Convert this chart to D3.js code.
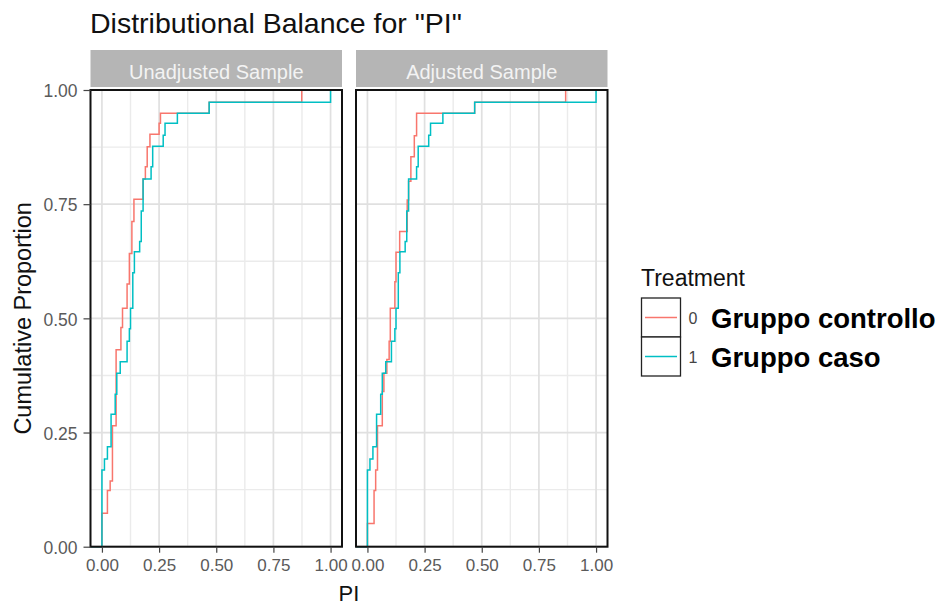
<!DOCTYPE html>
<html>
<head>
<meta charset="utf-8">
<script src="https://cdn.jsdelivr.net/npm/d3@7"></script>
<style>
  body { margin: 0; background: #fff; }
  svg { display: block; font-family: "Liberation Sans", Arial, sans-serif; }
</style>
</head>
<body>
<svg id="chart" width="947" height="606"></svg>
<script>
// ---- data ----
const panelNames = ["Unadjusted Sample", "Adjusted Sample"];
const xTicks = [0, 0.25, 0.5, 0.75, 1];
const yTicks = [0, 0.25, 0.5, 0.75, 1];
const xMinor = [0.125, 0.375, 0.625, 0.875];
const yMinor = [0.125, 0.375, 0.625, 0.875];
const tickLabels = ["0.00", "0.25", "0.50", "0.75", "1.00"];
const treatmentCodes = ["0", "1"];
const groupNames = ["Gruppo controllo", "Gruppo caso"];
const groupColors = ["#F8766D", "#00BFC4"];

// ECDF steps: [PI value, cumulative proportion reached at that value]
const controlUnadjusted = [
  [0, 0.073], [0.024, 0.123], [0.036, 0.144], [0.046, 0.265], [0.062, 0.431],
  [0.083, 0.48], [0.09, 0.522], [0.11, 0.575], [0.12, 0.642], [0.131, 0.712],
  [0.14, 0.761], [0.18, 0.805], [0.19, 0.832], [0.198, 0.876], [0.21, 0.903],
  [0.25, 0.927], [0.256, 0.949], [0.469, 0.973], [0.874, 1.0]
];
const treatedUnadjusted = [
  [0, 0.168], [0.011, 0.192], [0.024, 0.219], [0.04, 0.29], [0.058, 0.334],
  [0.065, 0.38], [0.08, 0.405], [0.11, 0.45], [0.12, 0.477], [0.125, 0.522],
  [0.135, 0.6], [0.142, 0.646], [0.165, 0.668], [0.172, 0.735], [0.18, 0.805],
  [0.215, 0.832], [0.222, 0.877], [0.268, 0.901], [0.276, 0.927], [0.33, 0.949],
  [0.469, 0.973], [1.0, 1.0]
];
const controlAdjusted = [
  [0, 0.051], [0.029, 0.123], [0.036, 0.168], [0.044, 0.265], [0.065, 0.34],
  [0.072, 0.38], [0.085, 0.41], [0.095, 0.45], [0.1, 0.522], [0.12, 0.58],
  [0.125, 0.645], [0.141, 0.69], [0.174, 0.759], [0.18, 0.8], [0.19, 0.854],
  [0.205, 0.9], [0.215, 0.949], [0.469, 0.973], [0.867, 1.0]
];
const treatedAdjusted = [
  [0, 0.168], [0.011, 0.192], [0.024, 0.219], [0.04, 0.29], [0.058, 0.334],
  [0.065, 0.38], [0.08, 0.405], [0.105, 0.45], [0.12, 0.477], [0.125, 0.522],
  [0.135, 0.6], [0.142, 0.646], [0.165, 0.668], [0.172, 0.735], [0.18, 0.805],
  [0.215, 0.832], [0.222, 0.877], [0.268, 0.901], [0.276, 0.927], [0.33, 0.949],
  [0.469, 0.973], [1.0, 1.0]
];
const panelSeries = [
  [controlUnadjusted, treatedUnadjusted],
  [controlAdjusted, treatedAdjusted]
];

// ---- layout ----
const svg = d3.select("#chart");
const panelX = [[90.5, 342], [356, 607.5]];
const panelTop = 90, panelBottom = 546.7;
const stripTop = 50, stripBottom = 87;
const xDomain = [-0.05, 1.05];

const y = d3.scaleLinear().domain([0, 1]).range([panelBottom, panelTop]);

// title
svg.append("text")
  .attr("x", 90).attr("y", 33)
  .attr("font-size", 28.5).attr("fill", "#111")
  .text('Distributional Balance for "PI"');

panelNames.forEach((name, i) => {
  const [x0, x1] = panelX[i];
  const x = d3.scaleLinear().domain(xDomain).range([x0, x1]);
  const g = svg.append("g");

  // strip
  g.append("rect")
    .attr("x", x0).attr("y", stripTop)
    .attr("width", x1 - x0).attr("height", stripBottom - stripTop)
    .attr("fill", "#b5b5b5");
  g.append("text")
    .attr("x", (x0 + x1) / 2).attr("y", 79)
    .attr("text-anchor", "middle")
    .attr("font-size", 20).attr("fill", "#f3f3f3")
    .text(name);

  // grid: minor then major
  g.selectAll(".vminor").data(xMinor).join("line")
    .attr("x1", d => x(d)).attr("x2", d => x(d))
    .attr("y1", panelTop).attr("y2", panelBottom)
    .attr("stroke", "#ebebeb").attr("stroke-width", 1.4);
  g.selectAll(".hminor").data(yMinor).join("line")
    .attr("x1", x0).attr("x2", x1)
    .attr("y1", d => y(d)).attr("y2", d => y(d))
    .attr("stroke", "#ebebeb").attr("stroke-width", 1.4);
  g.selectAll(".vmajor").data(xTicks).join("line")
    .attr("x1", d => x(d)).attr("x2", d => x(d))
    .attr("y1", panelTop).attr("y2", panelBottom)
    .attr("stroke", "#e0e0e0").attr("stroke-width", 1.7);
  g.selectAll(".hmajor").data(yTicks).join("line")
    .attr("x1", x0).attr("x2", x1)
    .attr("y1", d => y(d)).attr("y2", d => y(d))
    .attr("stroke", "#e0e0e0").attr("stroke-width", 1.7);

  // ECDF step lines, padded out to the panel edges
  const line = d3.line()
    .x(d => x(d[0])).y(d => y(d[1]))
    .curve(d3.curveStepAfter);
  panelSeries[i].forEach((steps, k) => {
    const pts = [[xDomain[0], 0], ...steps, [xDomain[1], 1]];
    g.append("path")
      .attr("d", line(pts))
      .attr("fill", "none")
      .attr("stroke", groupColors[k])
      .attr("stroke-width", 1.5);
  });

  // panel border
  g.append("rect")
    .attr("x", x0).attr("y", panelTop)
    .attr("width", x1 - x0).attr("height", panelBottom - panelTop)
    .attr("fill", "none").attr("stroke", "#111").attr("stroke-width", 2);

  // x axis
  const xAxis = d3.axisBottom(x)
    .tickValues(xTicks)
    .tickFormat((d, j) => tickLabels[j])
    .tickSize(6).tickPadding(6);
  const ax = g.append("g")
    .attr("transform", `translate(0,${panelBottom})`)
    .call(xAxis);
  ax.select(".domain").remove();
  ax.selectAll(".tick line").attr("stroke", "#444").attr("stroke-width", 1.2);
  ax.selectAll(".tick text")
    .attr("font-family", "Liberation Sans, Arial, sans-serif")
    .attr("font-size", 17).attr("fill", "#5a5a5a")
    .attr("dy", "0.71em");
});

// y axis on the first panel
const yAxis = d3.axisLeft(y)
  .tickValues(yTicks)
  .tickFormat((d, j) => tickLabels[j])
  .tickSize(7).tickPadding(6);
const ay = svg.append("g")
  .attr("transform", `translate(${panelX[0][0]},0)`)
  .call(yAxis);
ay.select(".domain").remove();
ay.selectAll(".tick line").attr("stroke", "#444").attr("stroke-width", 1.2);
ay.selectAll(".tick text")
  .attr("font-family", "Liberation Sans, Arial, sans-serif")
  .attr("font-size", 17.5).attr("fill", "#5a5a5a")
  .attr("dy", "0.38em");

// axis titles
svg.append("text")
  .attr("x", (panelX[0][0] + panelX[1][1]) / 2).attr("y", 601)
  .attr("text-anchor", "middle")
  .attr("font-size", 22).attr("fill", "#111")
  .text("PI");
svg.append("text")
  .attr("transform", `translate(31,${(panelTop + panelBottom) / 2}) rotate(-90)`)
  .attr("text-anchor", "middle")
  .attr("font-size", 23.5).attr("fill", "#111")
  .text("Cumulative Proportion");

// legend
const legend = svg.append("g");
legend.append("text")
  .attr("x", 641).attr("y", 286)
  .attr("font-size", 23).attr("fill", "#111")
  .text("Treatment");
const keySize = 39;
treatmentCodes.forEach((code, k) => {
  const top = 298 + k * keySize;
  legend.append("rect")
    .attr("x", 641.5).attr("y", top)
    .attr("width", keySize).attr("height", keySize)
    .attr("fill", "#fff").attr("stroke", "#222").attr("stroke-width", 1.3);
  legend.append("line")
    .attr("x1", 645).attr("x2", 677)
    .attr("y1", top + keySize / 2).attr("y2", top + keySize / 2)
    .attr("stroke", groupColors[k]).attr("stroke-width", 1.5);
  legend.append("text")
    .attr("x", 693).attr("y", top + keySize / 2 + 6)
    .attr("text-anchor", "middle")
    .attr("font-size", 16).attr("fill", "#444")
    .text(code);
  legend.append("text")
    .attr("x", 711).attr("y", top + keySize / 2 + 10)
    .attr("font-size", 27.5).attr("font-weight", "bold").attr("fill", "#000")
    .text(groupNames[k]);
});
</script>
</body>
</html>
